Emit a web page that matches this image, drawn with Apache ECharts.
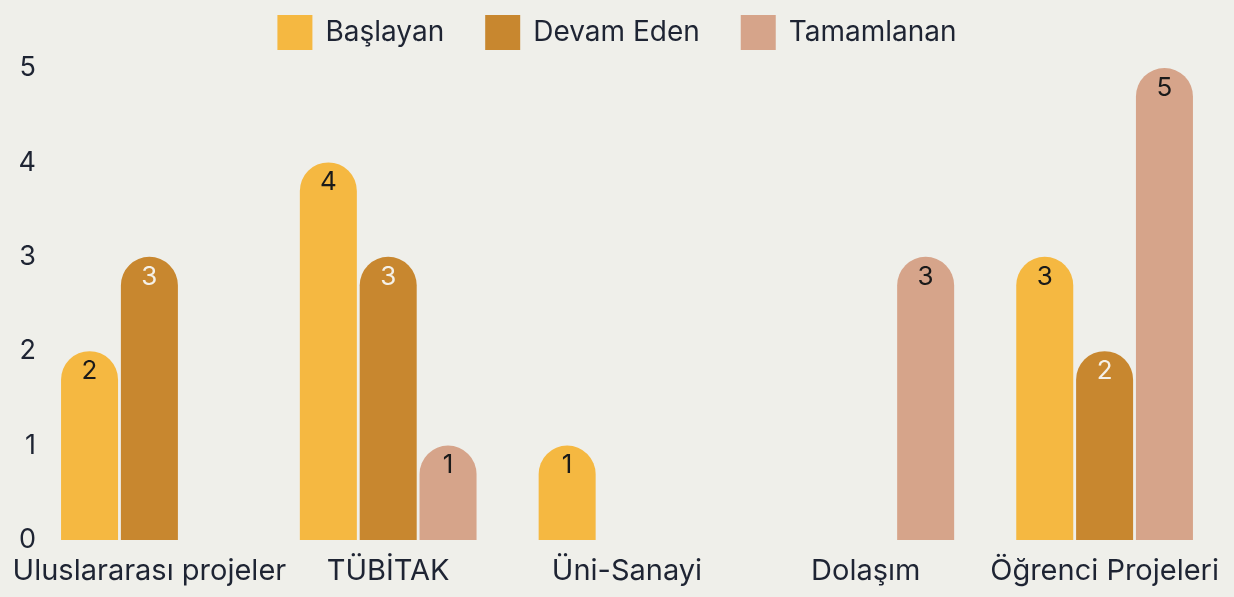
<!DOCTYPE html>
<html><head><meta charset="utf-8">
<script src="https://cdn.jsdelivr.net/npm/echarts@6/dist/echarts.min.js"></script>
<style>html,body{margin:0;padding:0;background:#EFEFEA;}#c{width:1234px;height:597px;}</style>
</head><body><div id="c"></div>
<script>
const categories = ["Uluslararası projeler", "TÜBİTAK", "Üni-Sanayi", "Dolaşım", "Öğrenci Projeleri"];
const baslayan = [2, 4, 1, 0, 3];
const devamEden = [3, 3, 0, 0, 2];
const tamamlanan = [0, 1, 0, 3, 5];
const yTicks = [0, 1, 2, 3, 4, 5];

const font = "Inter";
const colors = ["#F5B841", "#C8872F", "#D6A48A"];
function mk(name, data, color, labelColor) {
  return {
    name, type: "bar", data: data.map(v => v === 0 ? null : v),
    barWidth: 57, barGap: "5%",
    itemStyle: { color, borderRadius: [29, 29, 0, 0] },
    label: { show: true, position: "insideTop", distance: 7, color: labelColor, fontSize: 26, fontFamily: font }
  };
}
const chart = echarts.init(document.getElementById("c"));
chart.setOption({
  backgroundColor: "#EFEFEA",
  animation: false,
  legend: {
    top: 10, left: "center", itemWidth: 35, itemHeight: 35, itemGap: 41,
    icon: "rect",
    textStyle: { fontSize: 28, fontFamily: font, color: "#1e2433", padding: [0, 0, 0, 8] }
  },
  grid: { left: 30, right: 10, top: 68, bottom: 57 },
  xAxis: {
    type: "category", data: categories,
    axisLine: { show: false }, axisTick: { show: false },
    axisLabel: { fontSize: 29, fontFamily: font, color: "#1e2433", margin: 17, interval: 0 }
  },
  yAxis: {
    type: "value", min: yTicks[0], max: yTicks[yTicks.length - 1], interval: 1,
    splitLine: { show: false }, axisLine: { show: false }, axisTick: { show: false },
    axisLabel: { fontSize: 27, fontFamily: font, color: "#1e2433", align: "right", margin: -6 }
  },
  series: [
    mk("Başlayan", baslayan, colors[0], "#1a1a1a"),
    mk("Devam Eden", devamEden, colors[1], "#f4f0e8"),
    mk("Tamamlanan", tamamlanan, colors[2], "#1a1a1a")
  ]
});
</script></body></html>
